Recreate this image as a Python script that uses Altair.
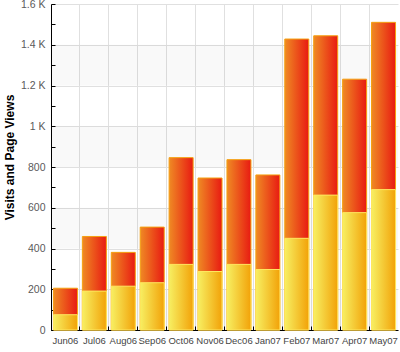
import altair as alt
import pandas as pd

months = ["Jun06", "Jul06", "Aug06", "Sep06", "Oct06", "Nov06",
          "Dec06", "Jan07", "Feb07", "Mar07", "Apr07", "May07"]
page_views = [205, 459, 381, 505, 846, 746, 836, 761, 1428, 1444, 1231, 1510]
visits = [75, 191, 215, 232, 322, 287, 322, 297, 450, 662, 576, 689]

band_lo = [0, 400, 800, 1200]
band_hi = [200, 600, 1000, 1400]
y_major = [0, 200, 400, 600, 800, 1000, 1200, 1400, 1600]
y_minor = list(range(0, 1700, 100))

df = pd.DataFrame({"month": months, "visits": visits, "pageviews": page_views})
bands_df = pd.DataFrame({"lo": band_lo, "hi": band_hi})

W, H = 347, 326
FONT = "Liberation Sans"

yscale = alt.Scale(domain=[0, 1600], nice=False, zero=True)
xscale = alt.Scale(paddingInner=0, paddingOuter=0)

red_grad = {"gradient": "linear", "x1": 0, "x2": 1, "y1": 0, "y2": 0,
            "stops": [{"offset": 0, "color": "#ef8a24"},
                      {"offset": 1, "color": "#e81a12"}]}
yel_grad = {"gradient": "linear", "x1": 0, "x2": 1, "y1": 0, "y2": 0,
            "stops": [{"offset": 0, "color": "#f7ef62"},
                      {"offset": 1, "color": "#f2a208"}]}

left_axis = alt.Axis(
    values=y_major, grid=True, gridColor="#e0e0e0", ticks=False, tickSize=0,
    domain=True, domainColor="#000", labelPadding=6, labelFont=FONT,
    labelFontSize=10.5, labelColor="#5a5a5a",
    labelExpr="datum.value >= 1000 ? format(datum.value/1000, '~g') + ' K' : datum.value",
    title="Visits and Page Views", titleFont=FONT, titleFontSize=12,
    titleFontWeight="bold", titleColor="#000", titleAngle=270,
    titleX=-42, titleY=153, titleAlign="center", titleBaseline="middle",
)
tick_y_axis = alt.Axis(
    orient="right", offset=-W, values=y_minor, grid=False, labels=False,
    domain=False, ticks=True, tickSize=4, tickColor="#000", title=None,
)
bottom_axis = alt.Axis(
    orient="bottom", grid=False, ticks=False, tickSize=0, domain=True,
    domainColor="#000", labelPadding=5, labelFont=FONT, labelFontSize=9.5,
    labelColor="#444", labelAngle=0, title=None,
)
top_grid_axis = alt.Axis(
    orient="top", offset=-H, bandPosition=0, grid=True, gridColor="#e0e0e0",
    labels=False, domain=False, ticks=True, tickSize=4, tickColor="#000",
    title=None,
)

bands = alt.Chart(bands_df).mark_rect(fill="#000", opacity=0.022).encode(
    y=alt.Y("lo:Q", scale=yscale, axis=left_axis),
    y2="hi:Q",
)

pv = alt.Chart(df).mark_bar(
    fill=red_grad, stroke="#f5a010", strokeWidth=1,
    width=alt.RelativeBandSize(0.83),
).encode(
    x=alt.X("month:N", sort=months, scale=xscale, axis=bottom_axis),
    y=alt.Y("pageviews:Q", scale=yscale, axis=tick_y_axis),
)

vis = alt.Chart(df).mark_bar(
    fill=yel_grad, stroke="#ffe860", strokeWidth=1,
    width=alt.RelativeBandSize(0.83),
).encode(
    x=alt.X("month:N", sort=months, scale=xscale, axis=top_grid_axis),
    y=alt.Y("visits:Q", scale=yscale, axis=None),
)

chart = alt.layer(bands, pv, vis).resolve_axis(
    x="independent", y="independent"
).properties(
    width=W, height=H,
    autosize=alt.AutoSizeParams(type="none"),
    padding={"left": 51, "top": 4, "right": 2, "bottom": 22},
    background="#ffffff",
).configure_view(stroke=None)

chart.save("out.html", embed_options={"renderer": "svg", "actions": False})
